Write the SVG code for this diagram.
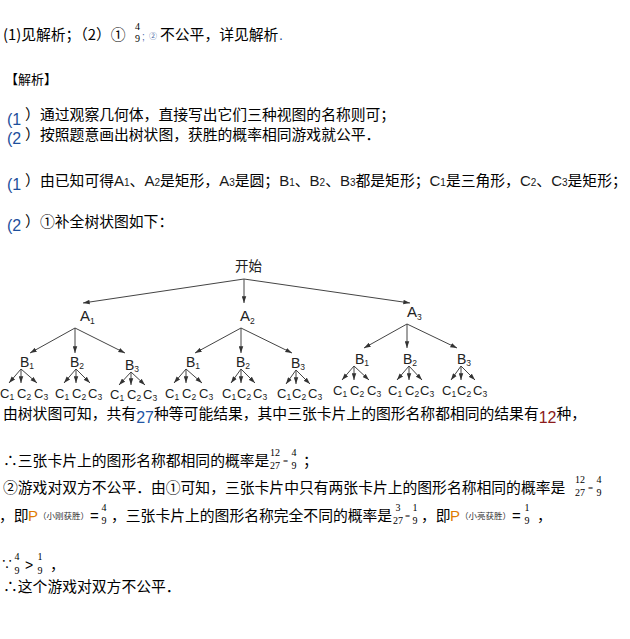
<svg xmlns="http://www.w3.org/2000/svg" width="630" height="639" viewBox="0 0 630 639">
<style>
.t{font-family:"Noto Sans CJK SC","Noto Sans CJK JP",sans-serif;font-size:14.8px;fill:#000}
.h{font-size:13px}
.pn{font-family:"Liberation Sans",Arial,sans-serif;font-size:16px;fill:#1d4f9c}
.f{font-family:"Liberation Serif","Times New Roman",serif;font-size:10px;fill:#000;text-anchor:middle}
.fe{font-family:"Liberation Serif","Times New Roman",serif;font-size:9px;fill:#000}
.lt{font-family:"Liberation Sans",Arial,sans-serif;font-size:15px;fill:#1a1a1a}
.ld{font-family:"Liberation Sans",Arial,sans-serif;font-size:10px;fill:#1a1a1a}
.m{font-family:"Liberation Sans",Arial,sans-serif;font-size:15px;fill:#000}
.sm{font-family:"Noto Sans CJK SC",sans-serif;font-size:8.5px;fill:#333}
.lb{font-family:"Liberation Sans",Arial,sans-serif;font-size:14px;fill:#222}
.lc{font-family:"Liberation Sans",Arial,sans-serif;font-size:13px;fill:#222}
.sb{font-size:8.5px}
.rt{font-family:"Noto Sans CJK SC",sans-serif;font-size:13.5px;fill:#222}
.ln{stroke:#444;stroke-width:1;fill:none;marker-end:url(#ah)}
</style>
<defs>
<marker id="ah" viewBox="0 0 8 6" refX="8" refY="3" markerWidth="7" markerHeight="5" markerUnits="userSpaceOnUse" orient="auto"><path d="M0,0.3 L8,3 L0,5.7 z" fill="#333"/></marker>
</defs>

<!-- answer line -->
<text class="t" x="3" y="40">(1)见解析；（2）①</text>
<text class="f" x="137.5" y="29.5">4</text>
<text class="f" x="137.5" y="42">9</text>
<text x="142" y="40" style="font-family:'Liberation Sans',sans-serif;font-size:10px;fill:#4a6aa8">;</text>
<text x="149" y="39" style="font-family:'Noto Sans CJK SC',sans-serif;font-size:8px;fill:#4a6aa8">②</text>
<text class="t" x="160" y="40">不公平，详见解析</text>
<text x="279" y="40" style="font-family:'Liberation Sans',sans-serif;font-size:14px;fill:#1d4f9c">.</text>

<text class="t h" x="5" y="84">【解析】</text>

<text class="pn" x="7" y="125">(1</text><text class="t" x="25" y="120">）</text>
<text class="t" x="40" y="120">通过观察几何体，直接写出它们三种视图的名称则可；</text>
<text class="pn" x="7" y="144">(2</text><text class="t" x="25" y="140">）</text>
<text class="t" x="40" y="140">按照题意画出树状图，获胜的概率相同游戏就公平．</text>

<text class="pn" x="7" y="190">(1</text><text class="t" x="25" y="186">）</text>
<text class="t" x="40" y="186">由已知可得<tspan class="lt">A</tspan><tspan class="ld">1</tspan>、<tspan class="lt">A</tspan><tspan class="ld">2</tspan>是矩形，<tspan class="lt">A</tspan><tspan class="ld">3</tspan>是圆；<tspan class="lt">B</tspan><tspan class="ld">1</tspan>、<tspan class="lt">B</tspan><tspan class="ld">2</tspan>、<tspan class="lt">B</tspan><tspan class="ld">3</tspan>都是矩形；<tspan class="lt">C</tspan><tspan class="ld">1</tspan>是三角形，<tspan class="lt">C</tspan><tspan class="ld">2</tspan>、<tspan class="lt">C</tspan><tspan class="ld">3</tspan>是矩形；</text>

<text class="pn" x="7" y="231">(2</text><text class="t" x="25" y="227">）</text>
<text class="t" x="40" y="227">①补全树状图如下：</text>

<!-- tree connectors -->
<g id="connectors">
<path class="ln" d="M244,279 L83,303"/>
<path class="ln" d="M244,279 L244,303"/>
<path class="ln" d="M244,279 L410,303"/>
<path class="ln" d="M75,328 L30,353"/>
<path class="ln" d="M75,328 L75,353"/>
<path class="ln" d="M75,328 L125,353"/>
<path class="ln" d="M241,328 L195,353"/>
<path class="ln" d="M241,328 L241,353"/>
<path class="ln" d="M241,328 L292,353"/>
<path class="ln" d="M407,324 L364,348"/>
<path class="ln" d="M407,324 L407,348"/>
<path class="ln" d="M407,324 L457,348"/>
<path class="ln" d="M21,369 L9,383"/><path class="ln" d="M21,369 L21,383"/><path class="ln" d="M21,369 L37,383"/>
<path class="ln" d="M76,369 L64,383"/><path class="ln" d="M76,369 L76,383"/><path class="ln" d="M76,369 L90,383"/>
<path class="ln" d="M131,372 L119,385"/><path class="ln" d="M131,372 L131,385"/><path class="ln" d="M131,372 L145,385"/>
<path class="ln" d="M186,369 L174,383"/><path class="ln" d="M186,369 L186,383"/><path class="ln" d="M186,369 L202,383"/>
<path class="ln" d="M241,369 L231,383"/><path class="ln" d="M241,369 L241,383"/><path class="ln" d="M241,369 L255,383"/>
<path class="ln" d="M296,370 L286,384"/><path class="ln" d="M296,370 L296,384"/><path class="ln" d="M296,370 L310,384"/>
<path class="ln" d="M354,366 L342,380"/><path class="ln" d="M354,366 L354,380"/><path class="ln" d="M354,366 L369,380"/>
<path class="ln" d="M409,366 L397,380"/><path class="ln" d="M409,366 L409,380"/><path class="ln" d="M409,366 L422,380"/>
<path class="ln" d="M461,366 L451,380"/><path class="ln" d="M461,366 L461,380"/><path class="ln" d="M461,366 L475,380"/>
</g>

<!-- tree nodes -->
<g id="n-root"><text class="rt" x="235" y="271">开始</text></g>
<g id="n-A1"><text class="lb" x="80" y="321" style="font-size:15px">A<tspan class="sb" dy="3">1</tspan></text></g>
<g id="n-A2"><text class="lb" x="240" y="321" style="font-size:15px">A<tspan class="sb" dy="3">2</tspan></text></g>
<g id="n-A3"><text class="lb" x="407" y="317" style="font-size:15px">A<tspan class="sb" dy="3">3</tspan></text></g>

<g id="n-A1-B1"><text class="lb" x="20" y="367">B<tspan class="sb" dy="2">1</tspan></text></g>
<g id="n-A1-B2"><text class="lb" x="70" y="367">B<tspan class="sb" dy="2">2</tspan></text></g>
<g id="n-A1-B3"><text class="lb" x="125" y="370">B<tspan class="sb" dy="2">3</tspan></text></g>
<g id="n-A2-B1"><text class="lb" x="186" y="367">B<tspan class="sb" dy="2">1</tspan></text></g>
<g id="n-A2-B2"><text class="lb" x="236" y="367">B<tspan class="sb" dy="2">2</tspan></text></g>
<g id="n-A2-B3"><text class="lb" x="291" y="368">B<tspan class="sb" dy="2">3</tspan></text></g>
<g id="n-A3-B1"><text class="lb" x="355" y="364">B<tspan class="sb" dy="2">1</tspan></text></g>
<g id="n-A3-B2"><text class="lb" x="403" y="364">B<tspan class="sb" dy="2">2</tspan></text></g>
<g id="n-A3-B3"><text class="lb" x="457" y="364">B<tspan class="sb" dy="2">3</tspan></text></g>

<g id="n-A1-B1-C"><text class="lc" x="0" y="398">C<tspan class="sb" dy="2">1</tspan></text><text class="lc" x="17" y="398">C<tspan class="sb" dy="2">2</tspan></text><text class="lc" x="34" y="398">C<tspan class="sb" dy="2">3</tspan></text></g>
<g id="n-A1-B2-C"><text class="lc" x="55" y="398">C<tspan class="sb" dy="2">1</tspan></text><text class="lc" x="72" y="398">C<tspan class="sb" dy="2">2</tspan></text><text class="lc" x="88" y="398">C<tspan class="sb" dy="2">3</tspan></text></g>
<g id="n-A1-B3-C"><text class="lc" x="110" y="399">C<tspan class="sb" dy="2">1</tspan></text><text class="lc" x="127" y="399">C<tspan class="sb" dy="2">2</tspan></text><text class="lc" x="143" y="399">C<tspan class="sb" dy="2">3</tspan></text></g>
<g id="n-A2-B1-C"><text class="lc" x="165" y="398">C<tspan class="sb" dy="2">1</tspan></text><text class="lc" x="182" y="398">C<tspan class="sb" dy="2">2</tspan></text><text class="lc" x="199" y="398">C<tspan class="sb" dy="2">3</tspan></text></g>
<g id="n-A2-B2-C"><text class="lc" x="222" y="398">C<tspan class="sb" dy="2">1</tspan></text><text class="lc" x="237" y="398">C<tspan class="sb" dy="2">2</tspan></text><text class="lc" x="253" y="398">C<tspan class="sb" dy="2">3</tspan></text></g>
<g id="n-A2-B3-C"><text class="lc" x="277" y="398">C<tspan class="sb" dy="2">1</tspan></text><text class="lc" x="292" y="398">C<tspan class="sb" dy="2">2</tspan></text><text class="lc" x="308" y="398">C<tspan class="sb" dy="2">3</tspan></text></g>
<g id="n-A3-B1-C"><text class="lc" x="333" y="395">C<tspan class="sb" dy="2">1</tspan></text><text class="lc" x="350" y="395">C<tspan class="sb" dy="2">2</tspan></text><text class="lc" x="367" y="395">C<tspan class="sb" dy="2">3</tspan></text></g>
<g id="n-A3-B2-C"><text class="lc" x="388" y="395">C<tspan class="sb" dy="2">1</tspan></text><text class="lc" x="405" y="395">C<tspan class="sb" dy="2">2</tspan></text><text class="lc" x="420" y="395">C<tspan class="sb" dy="2">3</tspan></text></g>
<g id="n-A3-B3-C"><text class="lc" x="442" y="395">C<tspan class="sb" dy="2">1</tspan></text><text class="lc" x="457" y="395">C<tspan class="sb" dy="2">2</tspan></text><text class="lc" x="473" y="395">C<tspan class="sb" dy="2">3</tspan></text></g>

<!-- conclusion -->
<text class="t" x="3" y="419">由树状图可知，共有<tspan dy="4" style="font-family:'Liberation Sans',sans-serif;font-size:16px;fill:#2255a4">27</tspan><tspan dy="-4">种等可能结果，其中三张卡片上的图形名称都相同的结果有</tspan><tspan dy="4" style="font-family:'Liberation Sans',sans-serif;font-size:16px;fill:#8b1a1a">12</tspan><tspan dy="-4">种，</tspan></text>

<text class="t" x="3" y="466">∴三张卡片上的图形名称都相同的概率是</text>
<text class="f" x="275" y="456">12</text><text class="f" x="275" y="469">27</text>
<text class="fe" x="283" y="464">=</text>
<text class="f" x="294" y="456">4</text><text class="f" x="294" y="469">9</text>
<text class="t" x="303" y="466">；</text>

<text class="t" x="3" y="493">②游戏对双方不公平．由①可知，三张卡片中只有两张卡片上的图形名称相同的概率是</text>
<text class="f" x="580" y="483">12</text><text class="f" x="580" y="496">27</text>
<text class="fe" x="588" y="491">=</text>
<text class="f" x="599" y="483">4</text><text class="f" x="599" y="496">9</text>

<text class="t" x="-1" y="521">，即</text>
<text class="m" x="28" y="521" style="fill:#e07b00">P</text>
<text class="sm" x="38" y="519">（小刚获胜）</text>
<text class="m" x="90" y="521">=</text>
<text class="f" x="104" y="511">4</text><text class="f" x="104" y="524">9</text>
<text class="t" x="111" y="521">，三张卡片上的图形名称完全不同的概率是</text>
<text class="f" x="398" y="511">3</text><text class="f" x="398" y="524">27</text>
<text class="fe" x="405" y="519">=</text>
<text class="f" x="415" y="511">1</text><text class="f" x="415" y="524">9</text>
<text class="t" x="421" y="521">，即</text>
<text class="m" x="450" y="521" style="fill:#e07b00">P</text>
<text class="sm" x="460" y="519">（小亮获胜）</text>
<text class="m" x="512" y="521">=</text>
<text class="f" x="527" y="511">1</text><text class="f" x="527" y="524">9</text>
<text class="t" x="537" y="521">，</text>

<text x="1" y="569" style="font-family:'Noto Sans CJK SC',sans-serif;font-size:12px;fill:#000">∵</text>
<text class="f" x="17" y="560">4</text><text class="f" x="17" y="574">9</text>
<text class="m" x="25" y="570" style="font-size:14px">&gt;</text>
<text class="f" x="40" y="560">1</text><text class="f" x="40" y="574">9</text>
<text class="t" x="50" y="570">，</text>

<text class="t" x="3" y="592">∴这个游戏对双方不公平．</text>
</svg>
